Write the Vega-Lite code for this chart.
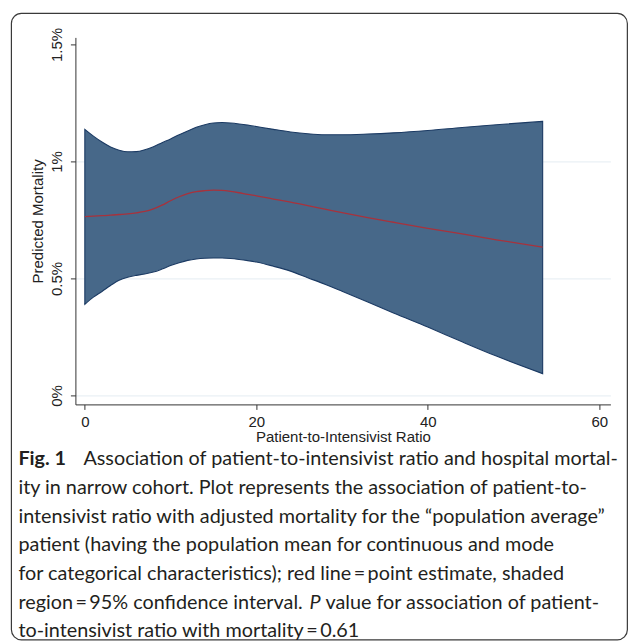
{
  "$schema": "https://vega.github.io/schema/vega-lite/v6.json",
  "padding": {"left": 10.4, "top": 12.4, "right": 0, "bottom": 0},
  "bounds": "flush",
  "spacing": 55,
  "config": {"view": {"stroke": null}, "font": "Liberation Sans"},
  "datasets": {
    "curve": [
      {"ratio": 0, "hi": 1.137, "lo": 0.389, "est": 0.764},
      {"ratio": 1, "hi": 1.108, "lo": 0.420, "est": 0.766},
      {"ratio": 2, "hi": 1.083, "lo": 0.444, "est": 0.768},
      {"ratio": 3, "hi": 1.062, "lo": 0.470, "est": 0.770},
      {"ratio": 4, "hi": 1.048, "lo": 0.492, "est": 0.773},
      {"ratio": 5, "hi": 1.041, "lo": 0.505, "est": 0.776},
      {"ratio": 6, "hi": 1.042, "lo": 0.513, "est": 0.780},
      {"ratio": 7, "hi": 1.050, "lo": 0.519, "est": 0.786},
      {"ratio": 8, "hi": 1.063, "lo": 0.527, "est": 0.797},
      {"ratio": 9, "hi": 1.080, "lo": 0.540, "est": 0.813},
      {"ratio": 10, "hi": 1.096, "lo": 0.555, "est": 0.832},
      {"ratio": 11, "hi": 1.114, "lo": 0.567, "est": 0.849},
      {"ratio": 12, "hi": 1.130, "lo": 0.577, "est": 0.862},
      {"ratio": 13, "hi": 1.146, "lo": 0.583, "est": 0.871},
      {"ratio": 14, "hi": 1.157, "lo": 0.586, "est": 0.875},
      {"ratio": 15, "hi": 1.164, "lo": 0.587, "est": 0.877},
      {"ratio": 16, "hi": 1.166, "lo": 0.587, "est": 0.876},
      {"ratio": 17, "hi": 1.164, "lo": 0.585, "est": 0.872},
      {"ratio": 18, "hi": 1.160, "lo": 0.581, "est": 0.866},
      {"ratio": 19, "hi": 1.155, "lo": 0.576, "est": 0.859},
      {"ratio": 20, "hi": 1.149, "lo": 0.570, "est": 0.853},
      {"ratio": 22, "hi": 1.137, "lo": 0.552, "est": 0.839},
      {"ratio": 24, "hi": 1.126, "lo": 0.531, "est": 0.826},
      {"ratio": 26, "hi": 1.118, "lo": 0.503, "est": 0.811},
      {"ratio": 28, "hi": 1.114, "lo": 0.475, "est": 0.796},
      {"ratio": 30, "hi": 1.114, "lo": 0.445, "est": 0.781},
      {"ratio": 33, "hi": 1.117, "lo": 0.399, "est": 0.760},
      {"ratio": 36, "hi": 1.122, "lo": 0.352, "est": 0.740},
      {"ratio": 40, "hi": 1.132, "lo": 0.292, "est": 0.714},
      {"ratio": 44, "hi": 1.145, "lo": 0.229, "est": 0.690},
      {"ratio": 48, "hi": 1.157, "lo": 0.168, "est": 0.665},
      {"ratio": 53.4, "hi": 1.171, "lo": 0.093, "est": 0.634}
    ],
    "caption": [
      {"line": 1, "seg": "fig", "text": "Fig. 1"},
      {"line": 1, "seg": "l1", "text": "Association of patient-to-intensivist ratio and hospital mortal-"},
      {"line": 2, "seg": "main", "text": "ity in narrow cohort. Plot represents the association of patient-to-"},
      {"line": 3, "seg": "main", "text": "intensivist ratio with adjusted mortality for the “population average”"},
      {"line": 4, "seg": "main", "text": "patient (having the population mean for continuous and mode"},
      {"line": 5, "seg": "main", "text": "for categorical characteristics); red line\u2009=\u2009point estimate, shaded"},
      {"line": 6, "seg": "main", "text": "region\u2009=\u200995% confidence interval."},
      {"line": 6, "seg": "p", "text": "P"},
      {"line": 6, "seg": "l6b", "text": "value for association of patient-"},
      {"line": 7, "seg": "main", "text": "to-intensivist ratio with mortality\u2009=\u20090.61"}
    ]
  },
  "vconcat": [
    {
      "width": 535,
      "height": 367,
      "layer": [
        {
          "data": {"values": [{"frame": "border"}]},
          "mark": {"type": "rect", "fill": null, "stroke": "#3a3a3a", "strokeWidth": 1.2, "cornerRadius": 10},
          "encoding": {
            "x": {"datum": -8.564, "type": "quantitative", "scale": {"domain": [-1.1, 61.3], "nice": false, "zero": false}},
            "x2": {"datum": 63.28},
            "y": {"datum": 1.6326, "type": "quantitative", "scale": {"domain": [-0.0385, 1.53], "nice": false, "zero": false}},
            "y2": {"datum": -1.0449}
          }
        },
        {
          "data": {"name": "curve"},
          "mark": {"type": "area", "interpolate": "monotone", "fill": "#476889", "stroke": "#1b3a63", "strokeWidth": 1.1, "fillOpacity": 1},
          "encoding": {
            "x": {
              "field": "ratio", "type": "quantitative",
              "scale": {"domain": [-1.1, 61.3], "nice": false, "zero": false},
              "axis": {
                "values": [0, 20, 40, 60], "title": "Patient-to-Intensivist Ratio",
                "grid": false, "domainColor": "#333333", "tickColor": "#333333", "tickSize": 5,
                "labelFont": "Liberation Sans", "labelFontSize": 15, "labelColor": "#222222", "labelPadding": 5,
                "titleFont": "Liberation Sans", "titleFontSize": 15, "titleFontWeight": "normal", "titleColor": "#222222", "titlePadding": 0
              }
            },
            "y": {
              "field": "hi", "type": "quantitative",
              "scale": {"domain": [-0.0385, 1.53], "nice": false, "zero": false},
              "axis": {
                "values": [0, 0.5, 1, 1.5], "title": "Predicted Mortality",
                "labelExpr": "datum.value + '%'",
                "labelAngle": -90, "labelAlign": "center", "labelBaseline": "alphabetic",
                "grid": true,
                "gridColor": {"condition": {"test": "datum.value == 1.5", "value": "transparent"}, "value": "#e4ecf2"},
                "gridWidth": 1,
                "domainColor": "#333333", "tickColor": "#333333", "tickSize": 5,
                "labelFont": "Liberation Sans", "labelFontSize": 15, "labelColor": "#222222", "labelPadding": 9,
                "titleFont": "Liberation Sans", "titleFontSize": 15, "titleFontWeight": "normal", "titleColor": "#222222", "titlePadding": 4
              }
            },
            "y2": {"field": "lo"}
          }
        },
        {
          "data": {"name": "curve"},
          "mark": {"type": "line", "interpolate": "monotone", "color": "#a8323c", "strokeWidth": 1.3},
          "encoding": {
            "x": {"field": "ratio", "type": "quantitative", "scale": {"domain": [-1.1, 61.3], "nice": false, "zero": false}},
            "y": {"field": "est", "type": "quantitative", "scale": {"domain": [-0.0385, 1.53], "nice": false, "zero": false}}
          }
        }
      ]
    },
    {
      "width": 535,
      "height": 172,
      "data": {"name": "caption"},
      "encoding": {
        "y": {"field": "line", "type": "ordinal", "scale": {"type": "point", "padding": 0}, "axis": null},
        "text": {"field": "text"}
      },
      "layer": [
        {
          "transform": [{"filter": "datum.seg == 'main'"}],
          "mark": {"type": "text", "align": "left", "baseline": "middle", "font": "Lato", "fontSize": 19.8, "color": "#231f20"},
          "encoding": {"x": {"value": -57}}
        },
        {
          "transform": [{"filter": "datum.seg == 'fig'"}],
          "mark": {"type": "text", "align": "left", "baseline": "middle", "font": "Lato", "fontSize": 19.8, "fontWeight": "bold", "color": "#231f20"},
          "encoding": {"x": {"value": -57}}
        },
        {
          "transform": [{"filter": "datum.seg == 'l1'"}],
          "mark": {"type": "text", "align": "left", "baseline": "middle", "font": "Lato", "fontSize": 19.8, "color": "#231f20"},
          "encoding": {"x": {"value": 8}}
        },
        {
          "transform": [{"filter": "datum.seg == 'p'"}],
          "mark": {"type": "text", "align": "left", "baseline": "middle", "font": "Lato", "fontSize": 19.8, "fontStyle": "italic", "color": "#231f20"},
          "encoding": {"x": {"value": 234}}
        },
        {
          "transform": [{"filter": "datum.seg == 'l6b'"}],
          "mark": {"type": "text", "align": "left", "baseline": "middle", "font": "Lato", "fontSize": 19.8, "color": "#231f20"},
          "encoding": {"x": {"value": 250}}
        }
      ]
    }
  ]
}
